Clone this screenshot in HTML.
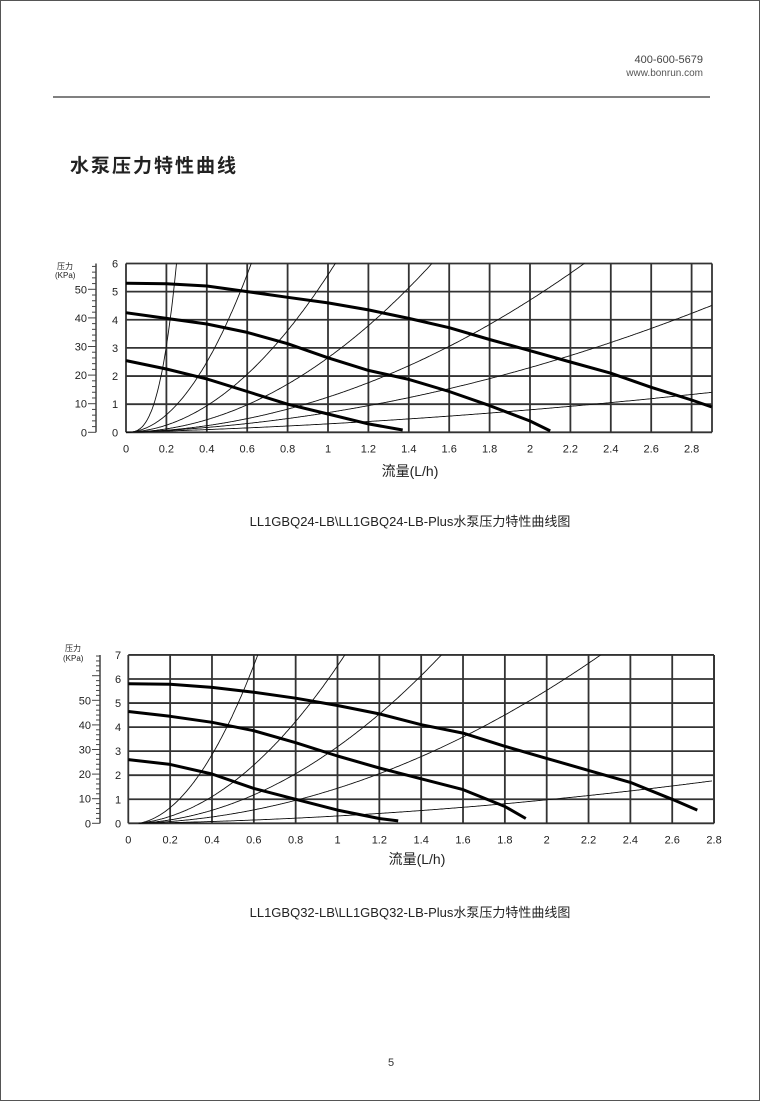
<!DOCTYPE html>
<html><head><meta charset="utf-8"><style>
html,body{margin:0;padding:0;background:#fff}
body{width:761px;height:1102px;position:relative;overflow:hidden;font-family:"Liberation Sans","Noto Sans CJK SC",sans-serif}
svg{position:absolute;left:0;top:0}
</style></head><body>
<svg id="s" width="761" height="1102" xmlns="http://www.w3.org/2000/svg" font-family="Liberation Sans, Noto Sans CJK SC, sans-serif">
<rect x="0.5" y="0.5" width="759" height="1100" fill="none" stroke="#555" stroke-width="1"/>
<text x="703" y="63" font-size="11" fill="#444" text-anchor="end">400-600-5679</text>
<text x="703" y="76" font-size="10" fill="#555" text-anchor="end">www.bonrun.com</text>
<line x1="53" y1="97" x2="710" y2="97" stroke="#000" stroke-width="1"/>
<text x="70" y="172" font-size="19" fill="#222" font-weight="bold" letter-spacing="2">水泵压力特性曲线</text>
<defs><clipPath id="k1"><rect x="126" y="263" width="586" height="172"/></clipPath><clipPath id="k2"><rect x="128" y="655" width="586" height="170"/></clipPath></defs>
<g id="c1"></g><g id="c2"></g>
<text x="57" y="269" font-size="8" fill="#222">压力</text>
<text x="55" y="278" font-size="8" fill="#222">(KPa)</text>
<text x="65" y="651" font-size="8" fill="#222">压力</text>
<text x="63" y="661" font-size="8" fill="#222">(KPa)</text>
<text x="410" y="476" font-size="14" fill="#222" text-anchor="middle">流量(L/h)</text>
<text x="410" y="526" font-size="13" fill="#222" text-anchor="middle">LL1GBQ24-LB\LL1GBQ24-LB-Plus水泵压力特性曲线图</text>
<text x="417" y="864" font-size="14" fill="#222" text-anchor="middle">流量(L/h)</text>
<text x="410" y="917" font-size="13" fill="#222" text-anchor="middle">LL1GBQ32-LB\LL1GBQ32-LB-Plus水泵压力特性曲线图</text>
<text x="391" y="1066" font-size="11" fill="#333" text-anchor="middle">5</text>
</svg>
<script>
var NS="http://www.w3.org/2000/svg";
function el(p,t,a){var e=document.createElementNS(NS,t);for(var k in a)e.setAttribute(k,a[k]);p.appendChild(e);return e;}
function txt(p,x,y,s,anchor,size){var e=el(p,"text",{x:x,y:y,"font-size":size||11,fill:"#222","text-anchor":anchor||"middle"});e.textContent=s;}
function chart(g,o){
 var X=function(x){return o.x0+x*o.sx},Y=function(y){return o.y0-y*o.sy};
 for(var i=0;i<=o.nx;i++){var xx=X(i*0.2);el(g,"line",{x1:xx,y1:Y(o.ymax),x2:xx,y2:o.y0,stroke:"#333","stroke-width":1.8});
  var l=(i*0.2).toFixed(1).replace(/\.0$/,"");txt(g,xx,o.y0+20,l);}
 el(g,"line",{x1:o.xr,y1:Y(o.ymax),x2:o.xr,y2:o.y0,stroke:"#333","stroke-width":1.8});
 for(var j=0;j<=o.ymax;j++){el(g,"line",{x1:X(0),y1:Y(j),x2:o.xr,y2:Y(j),stroke:"#333","stroke-width":1.8});txt(g,o.ylx,Y(j)+4,""+j);}
 el(g,"line",{x1:o.ax,y1:o.y0,x2:o.ax,y2:Y(o.ymax),stroke:"#444","stroke-width":1.5});
 for(var k=0;k<=o.kmax;k+=2){var yy=o.y0-k*o.ks;var maj=k%10==0;
  el(g,"line",{x1:o.ax-(maj?8:4),y1:yy,x2:o.ax,y2:yy,stroke:"#444","stroke-width":1});
  if(maj&&k<=o.klab)txt(g,o.ax-9,yy+4,""+k,"end");}
 var cg=el(g,"g",{"clip-path":"url(#"+o.clip+")"});
 o.sys.forEach(function(f){var d="";for(var x=o.sx0;x<=o.xend;x+=0.005){var y=f(x);d+=(d?"L":"M")+X(x).toFixed(1)+","+Y(y).toFixed(1);if(y>o.ymax){break;}}
  el(cg,"path",{d:d,fill:"none",stroke:"#111","stroke-width":0.9});});
 o.pumps.forEach(function(pts){var d="";pts.forEach(function(p,i){d+=(i?"L":"M")+X(p[0]).toFixed(1)+","+Y(p[1]).toFixed(1);});
  el(g,"path",{d:d,fill:"none",stroke:"#000","stroke-width":3,"stroke-linejoin":"round"});});
}
chart(document.getElementById("c1"),{clip:"k1",x0:126,sx:202,y0:432.3,sy:28.13,ymax:6,nx:14,xr:712,ylx:115,ax:96,ks:2.86,kmax:58,klab:50,sx0:0,xend:2.9,
 sys:[function(x){return 6*Math.pow(x/0.25,3)},function(x){return 15.6*x*x},function(x){return 5.4*x*x+0.2*x},function(x){return 2.55*x*x+0.1*x},
 function(x){return 1.1*x*x+0.15*x},function(x){return 0.45*x*x+0.25*x},function(x){return 0.1*x*x+0.2*x}],
 pumps:[[[0,5.3],[0.2,5.28],[0.4,5.2],[0.6,5.0],[0.8,4.8],[1.0,4.6],[1.2,4.35],[1.4,4.05],[1.6,3.72],[1.8,3.3],[2.0,2.9],[2.2,2.5],[2.4,2.1],[2.6,1.6],[2.8,1.15],[2.9,0.9]],
 [[0,4.25],[0.2,4.05],[0.4,3.85],[0.6,3.55],[0.8,3.15],[1.0,2.65],[1.2,2.2],[1.4,1.88],[1.6,1.45],[1.8,0.95],[2.0,0.4],[2.1,0.05]],
 [[0,2.55],[0.2,2.25],[0.4,1.9],[0.6,1.45],[0.8,1.0],[1.0,0.65],[1.2,0.3],[1.37,0.08]]]});
chart(document.getElementById("c2"),{clip:"k2",x0:128.3,sx:209.2,y0:823.3,sy:24.05,ymax:7,nx:14,xr:714,ylx:118,ax:100,ks:2.46,kmax:68,klab:50,sx0:0.05,xend:2.79,
 sys:[function(x){var t=x-0.05;return 19*t*t+1.5*t},function(x){var t=x-0.05;return 6.2*t*t+1*t},function(x){var t=x-0.05;return 3*t*t+0.5*t},
 function(x){var t=x-0.05;return 1.3*t*t+0.3*t},function(x){var t=x-0.05;return 0.18*t*t+0.15*t}],
 pumps:[[[0,5.8],[0.2,5.78],[0.4,5.65],[0.6,5.45],[0.8,5.2],[1.0,4.9],[1.2,4.55],[1.4,4.1],[1.6,3.75],[1.8,3.2],[2.0,2.7],[2.2,2.2],[2.4,1.7],[2.6,1.0],[2.72,0.55]],
 [[0,4.65],[0.2,4.45],[0.4,4.2],[0.6,3.85],[0.8,3.35],[1.0,2.8],[1.2,2.3],[1.4,1.85],[1.6,1.4],[1.8,0.7],[1.9,0.2]],
 [[0,2.65],[0.2,2.45],[0.4,2.05],[0.6,1.45],[0.8,1.0],[1.0,0.55],[1.2,0.2],[1.29,0.1]]]});
</script>
</body></html>
